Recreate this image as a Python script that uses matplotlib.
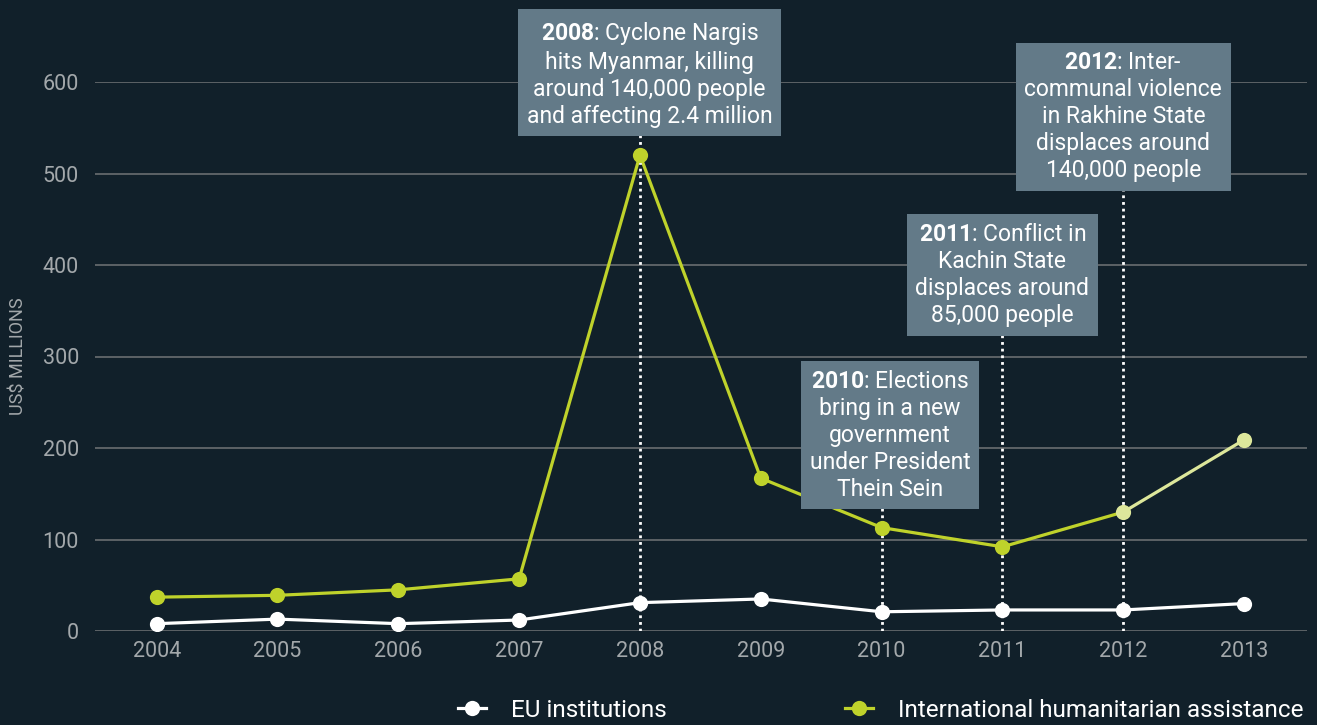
import numpy as np
import matplotlib
matplotlib.use('Agg')
import matplotlib.pyplot as plt
from matplotlib.lines import Line2D

# --------datos---------
years = [2004, 2005, 2006, 2007, 2008, 2009, 2010, 2011, 2012, 2013]
eu_inst = [8, 13, 8, 12, 31, 35, 21, 23, 23, 30]
intl_hum = [37, 39, 45, 57, 520, 167, 113, 92, 130, 209]

# anotaciones: (anio, etiqueta en negrita, resto del texto)
notes_year = [2008, 2010, 2011, 2012]
notes_bold = ['2008', '2010', '2011', '2012']
notes_text = [': Cyclone Nargis\nhits Myanmar, killing\naround 140,000 people\nand affecting 2.4 million',
              ': Elections\nbring in a new\ngovernment\nunder President\nThein Sein',
              ': Conflict in\nKachin State\ndisplaces around\n85,000 people',
              ': Inter-\ncommunal violence\nin Rakhine State\ndisplaces around\n140,000 people']
notes_y = [609, 214, 389, 562]
notes_dx = [0.08, 0.07, 0.0, 0.0]

# --------estilo---------
bg = '#11202a'
green = '#bfd22b'
green_light = '#dde79b'
grid_c = '#62686b'
tick_c = '#a3a8ab'
box_c = '#637a88'

plt.rcParams['font.family'] = ['Roboto', 'DejaVu Sans']
plt.rcParams['mathtext.fontset'] = 'custom'
plt.rcParams['mathtext.bf'] = 'Roboto:bold'
plt.rcParams['mathtext.rm'] = 'Roboto'

fig = plt.figure(figsize=(13.17, 7.25), dpi=100, facecolor=bg)
ax = fig.add_axes([95 / 1317, 1 - 631 / 725, (1307 - 95) / 1317, (631 - 82) / 725])
ax.set_facecolor(bg)

ax.set_xlim(2003.49, 2013.52)
ax.set_ylim(0, 600)
ax.set_yticks(np.arange(0, 601, 100))
ax.set_xticks(years)
ax.yaxis.grid(True, color=grid_c, linewidth=1.3)
ax.set_axisbelow(True)
for s in ax.spines.values():
    s.set_visible(False)
ax.tick_params(axis='both', length=0, colors=tick_c, labelsize=15.5)
ax.tick_params(axis='y', pad=11.5)
ax.tick_params(axis='x', pad=7)
ax.set_ylabel('US$ MILLIONS', color=tick_c, fontsize=13, labelpad=11)

# lineas
yr = np.array(years)
ih = np.array(intl_hum)
ax.plot(yr, eu_inst, color='white', linewidth=2.3, zorder=2)
ax.plot(yr[:-1], ih[:-1], color=green, linewidth=2.3, zorder=2)
ax.plot(yr[-2:], ih[-2:], color=green_light, linewidth=2.3, zorder=2)

# lineas punteadas de las anotaciones
for i in range(len(notes_year)):
    ax.plot([notes_year[i], notes_year[i]], [0, notes_y[i]], color='white',
            linewidth=2, linestyle=(0, (1, 1.4)), zorder=2.5)

ax.scatter(yr, eu_inst, s=120, color='white', zorder=3, linewidths=0)
ax.scatter(yr[:-2], ih[:-2], s=120, color=green, zorder=3, linewidths=0)
ax.scatter(yr[-2:], ih[-2:], s=120, color=green_light, zorder=3, linewidths=0)

# cajas de texto
for i in range(len(notes_year)):
    ax.text(notes_year[i] + notes_dx[i], notes_y[i],
            '$\\bf{' + notes_bold[i] + '}$' + notes_text[i],
            ha='center', va='center', color='white', fontsize=16.5,
            linespacing=1.22, zorder=5, clip_on=False,
            bbox=dict(boxstyle='square,pad=0.38', facecolor=box_c, edgecolor='none'))

# leyenda
handles = [Line2D([], [], color='white', linewidth=2.3, marker='o', markersize=11, markeredgewidth=0),
           Line2D([], [], color=green, linewidth=2.3, marker='o', markersize=11, markeredgewidth=0)]
leg = fig.legend(handles, ['EU institutions', 'International humanitarian assistance'],
                 loc='center left', bbox_to_anchor=(458 / 1317, 0.02), ncol=2, frameon=False,
                 fontsize=17.5, handlelength=1.15, handletextpad=1.05, columnspacing=7.3,
                 borderpad=0, borderaxespad=0)
for t in leg.get_texts():
    t.set_color('white')

fig.savefig('out.png', dpi=100, facecolor=bg)
